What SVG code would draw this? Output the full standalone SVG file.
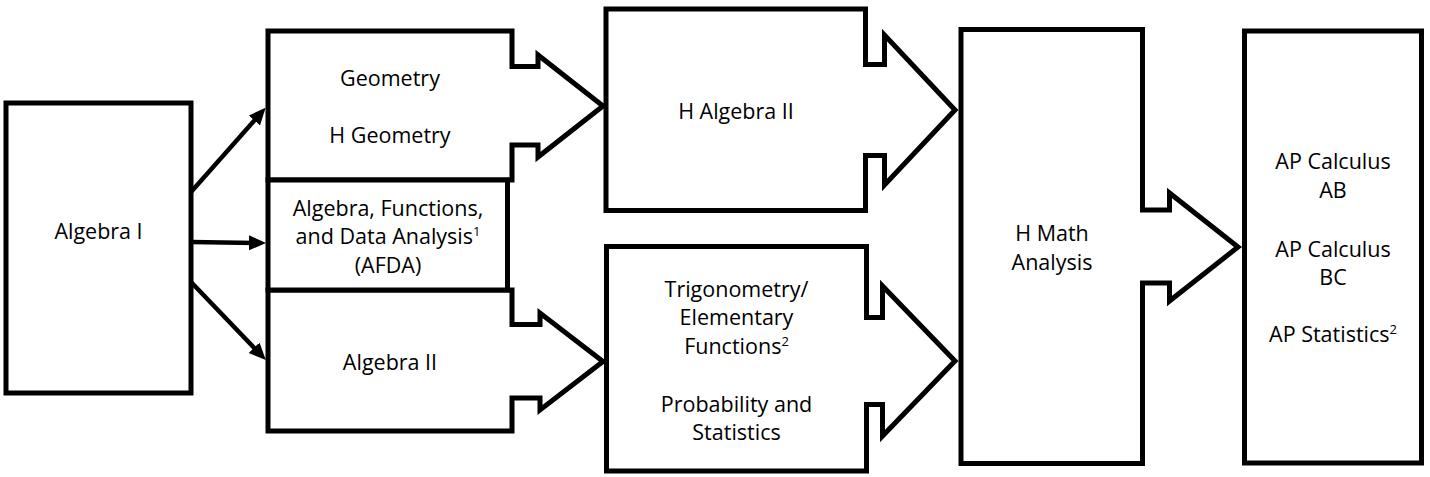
<svg xmlns="http://www.w3.org/2000/svg" width="1430" height="477" viewBox="0 0 1430 477">
  <style>
    .box { fill: #fff; stroke: #000; stroke-width: 5; stroke-linejoin: miter; }
    .lbl { font-family: "Open Sans", "Liberation Sans", sans-serif; font-size: 21.5px; fill: #000; text-anchor: middle; }
    .sup { font-size: 13px; }
    .conn { stroke: #000; stroke-width: 4.5; fill: none; }
  </style>
  <defs>
    <marker id="ah" markerUnits="userSpaceOnUse" markerWidth="18" markerHeight="16" refX="10" refY="7.5" orient="auto" viewBox="0 0 18 16">
      <path d="M0,0 L17,7.5 L0,15 Z" fill="#000"/>
    </marker>
  </defs>
  <rect width="1430" height="477" fill="#fff"/>

  <g id="algebra1">
    <rect class="box" x="6" y="103" width="185" height="290"/>
    <text class="lbl" x="98.5" y="239">Algebra I</text>
  </g>

  <g id="geometry">
    <path class="box" d="M268,31 H512 V66.5 H538 V55 L603,106 L538,157 V145 H512 V180 H268 Z"/>
    <text class="lbl" x="390" y="86">Geometry</text>
    <text class="lbl" x="390" y="143">H Geometry</text>
  </g>

  <g id="algebra2">
    <path class="box" d="M268,290 H512 V324.5 H540 V313 L603,361.5 L540,410 V398 H512 V431 H268 Z"/>
    <text class="lbl" x="390" y="370">Algebra II</text>
  </g>

  <g id="afda">
    <rect class="box" x="268" y="180" width="239.5" height="110"/>
    <text class="lbl" x="388" y="216">Algebra, Functions,</text>
    <text class="lbl" x="388" y="244">and Data Analysis<tspan class="sup" dy="-8">1</tspan></text>
    <text class="lbl" x="388" y="272.5">(AFDA)</text>
  </g>

  <g id="halgebra2">
    <path class="box" d="M606,9 H865.5 V64.5 H884.5 V35 L955,110 L884.5,185 V155.5 H865.5 V210.5 H606 Z"/>
    <text class="lbl" x="736" y="119">H Algebra II</text>
  </g>

  <g id="trig">
    <path class="box" d="M606.5,246.5 H866.5 V317.5 H882.5 V286 L955,361 L882.5,436 V404.5 H866.5 V471 H606.5 Z"/>
    <text class="lbl" x="736.5" y="297">Trigonometry/</text>
    <text class="lbl" x="736.5" y="325">Elementary</text>
    <text class="lbl" x="736.5" y="354">Functions<tspan class="sup" dy="-8">2</tspan></text>
    <text class="lbl" x="736.5" y="412">Probability and</text>
    <text class="lbl" x="736.5" y="440">Statistics</text>
  </g>

  <g id="hmath">
    <path class="box" d="M961,29.5 H1142.5 V210 H1169.5 V193 L1238,247 L1169.5,301 V283 H1142.5 V463.5 H961 Z"/>
    <text class="lbl" x="1052" y="241">H Math</text>
    <text class="lbl" x="1052" y="270">Analysis</text>
  </g>

  <g id="ap">
    <rect class="box" x="1244.5" y="31" width="177" height="432"/>
    <text class="lbl" x="1333" y="169">AP Calculus</text>
    <text class="lbl" x="1333" y="198">AB</text>
    <text class="lbl" x="1333" y="257">AP Calculus</text>
    <text class="lbl" x="1333" y="285">BC</text>
    <text class="lbl" x="1333" y="342">AP Statistics<tspan class="sup" dy="-8">2</tspan></text>
  </g>

  <g id="connectors">
    <line class="conn" x1="191" y1="192" x2="261" y2="113" marker-end="url(#ah)"/>
    <line class="conn" x1="191" y1="242" x2="259" y2="243" marker-end="url(#ah)"/>
    <line class="conn" x1="191" y1="282" x2="261" y2="355" marker-end="url(#ah)"/>
  </g>
</svg>
